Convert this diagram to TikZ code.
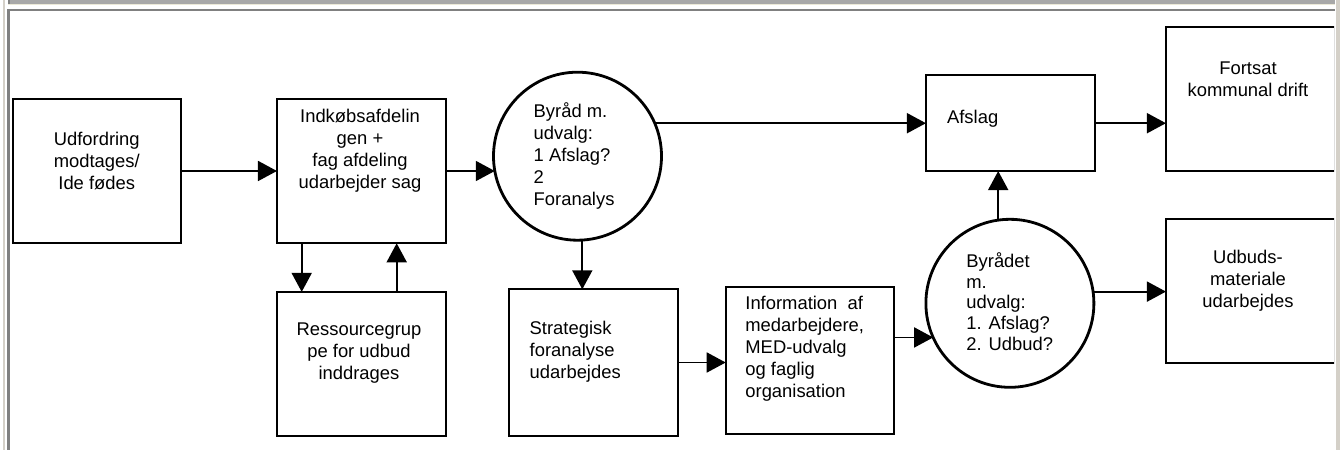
\documentclass[tikz,border=0pt]{standalone}
\usepackage{fontspec}
\setmainfont{Liberation Sans}
\usetikzlibrary{arrows.meta}
\definecolor{framegray}{HTML}{808080}
\definecolor{bandgray}{HTML}{A8A8A8}
\definecolor{lightstrip}{HTML}{D4D0C8}
\definecolor{beigeline}{HTML}{ECE9D8}
\begin{document}
\begin{tikzpicture}[x=0.5pt,y=-0.5pt,
  box/.style={draw, line width=1pt, inner sep=0pt, outer sep=0pt, rectangle},
  disc/.style={draw, circle, line width=1.4pt, minimum size=84pt, inner sep=0pt, outer sep=0pt},
  txt/.style={font=\fontsize{9.2}{11}\selectfont, inner sep=0pt, align=center},
  ltxt/.style={txt, align=left, anchor=west},
  arr/.style={line width=0.9pt, -{Triangle[length=9.5pt,width=10pt]}}]
\useasboundingbox (0,0) rectangle (1341,450);
% window frame
\fill[white] (0,0) rectangle (1341,450);
\fill[lightstrip] (2.7,0) rectangle (4.7,450);
\fill[lightstrip] (1336,0) rectangle (1339.5,450);
\fill[bandgray] (8,0) rectangle (1335,3.5);
\fill[framegray] (8,0) rectangle (10,3.5);
\fill[beigeline] (8,3.5) rectangle (1335,5.3);
\fill[framegray] (7.3,9) rectangle (10,450);
\fill[framegray] (7.3,9) rectangle (1335,10.7);
% boxes
\node[box, minimum width=84.25pt, minimum height=72.4pt] (b1) at (96.75,170.9) {};
\node[box, minimum width=84.35pt, minimum height=72.3pt] (b2) at (361.3,171) {};
\node[box, minimum width=84.35pt, minimum height=71.9pt] (b3) at (361.3,363.8) {};
\node[disc] (c1) at (577.5,156.2) {};
\node[box, minimum width=84.5pt, minimum height=73.2pt] (b4) at (593.8,362.5) {};
\node[box, minimum width=84.3pt, minimum height=73.5pt] (b5) at (810,360.5) {};
\node[disc] (c2) at (1009.9,303.3) {};
\node[box, minimum width=84.35pt, minimum height=47.85pt] (af) at (1010.3,123.2) {};
\begin{scope}
\clip (0,0) rectangle (1334,450);
\node[box, minimum width=84.35pt, minimum height=72.15pt] (fo) at (1250.3,98.8) {};
\node[box, minimum width=84.35pt, minimum height=72pt] (ud) at (1250.3,291.3) {};
\end{scope}
% texts
\node[txt] (t1) at (96.75,161) {Udfordring\\modtages/\\Ide fødes};
\node[txt] (t2) at (360,150.5) {Indkøbsafdelin\\gen +\\fag afdeling\\udarbejder sag};
\node[txt] (t3) at (359,353) {Ressourcegrup\\pe for udbud\\inddrages};
\node[ltxt] (tc1) at (533.3,155.5) {Byråd m.\\udvalg:\\1 Afslag?\\2\\Foranalys};
\node[ltxt] (t4) at (529.3,351.5) {Strategisk\\foranalyse\\udarbejdes};
\node[ltxt] (t5) at (745,349) {Information\ \ af\\medarbejdere,\\MED-udvalg\\og faglig\\organisation};
\node[ltxt] (taf) at (946.7,118.3) {Afslag};
\node[txt] (tfo) at (1248,79) {Fortsat\\kommunal drift};
\node[ltxt, font=\fontsize{9.2}{10.4}\selectfont] (tc2) at (966,301.5) {Byrådet\\m.\\udvalg:\\1. Afslag?\\2. Udbud?};
\node[txt] (tud) at (1248,281) {Udbuds-\\materiale\\udarbejdes};
% connectors
\draw[arr] (b1.east) -- (b2.west);
\draw[arr] (b2.east) -- (b2.east -| c1.190);
\draw[arr] (af.west -| c1.23) -- (af.west);
\draw[arr] ([xshift=2.4pt]c1.south) -- ([xshift=2.4pt]c1.south |- b4.north);
\draw[arr] ([xshift=-29.8pt]b2.south) -- ([xshift=-29.8pt]b3.north);
\draw[arr] ([xshift=17.7pt]b3.north) -- ([xshift=17.7pt]b2.south);
\draw[arr] (b4.east) -- (b4.east -| b5.west);
\draw[arr] (b5.east |- c2.204) -- (c2.204);
\draw[arr] (c2.98) -- (c2.98 |- af.south);
\draw[arr] (af.east) -- (af.east -| fo.west);
\draw[arr] (c2.8) -- (c2.8 -| ud.west);
\end{tikzpicture}
\end{document}
